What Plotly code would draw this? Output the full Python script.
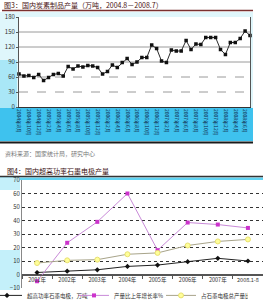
import plotly.graph_objects as go

W, H = 263, 300
FONT = "Noto Sans CJK SC"

# ---------------- data ----------------
months = [
    "2004年8月", "2004年9月", "2004年10月", "2004年11月", "2004年12月",
    "2005年1月", "2005年2月", "2005年3月", "2005年4月", "2005年5月", "2005年6月",
    "2005年7月", "2005年8月", "2005年9月", "2005年10月", "2005年11月", "2005年12月",
    "2006年1月", "2006年2月", "2006年3月", "2006年4月", "2006年5月", "2006年6月",
    "2006年7月", "2006年8月", "2006年9月", "2006年10月", "2006年11月", "2006年12月",
    "2007年1月", "2007年2月", "2007年3月", "2007年4月", "2007年5月", "2007年6月",
    "2007年7月", "2007年8月", "2007年9月", "2007年10月", "2007年11月", "2007年12月",
    "2008年1月", "2008年2月", "2008年3月", "2008年4月", "2008年5月", "2008年6月",
    "2008年7月",
]
production = [
    66, 62, 63, 59, 65, 53, 59, 65, 67, 62, 81, 76, 82, 80, 83, 82, 79, 66,
    71, 84, 79, 89, 97, 85, 90, 99, 99, 124, 117, 92, 89, 114, 112, 112, 133,
    115, 126, 125, 139, 139, 139, 115, 105, 129, 129, 137, 152, 143,
]
month_ticks = months[::2]
y1_ticks = [0, 30, 60, 90, 120, 150, 180]
grid_solid = [90, 120, 150]
grid_dash = [30, 60]

years = ["2001年", "2002年", "2003年", "2004年", "2005年", "2006年", "2007年", "2008.1-8"]
uhp_output = [1.5, 2.5, 3.5, 6, 7, 9.5, 12, 10]
growth_rate = [-5, 23.5, 39, 60, 18, 38.5, 37, 34.5]
share_pct = [8.5, 10.5, 11, 15, 16, 21.5, 24.5, 26]
y2_ticks = [-10, 0, 10, 20, 30, 40, 50, 60, 70]

title1 = "图3：国内炭素制品产量（万吨，2004.8－2008.7）"
source1 = "资料来源：国家统计局，研究中心"
title2 = "图4：国内超高功率石墨电极产量"
names = ["超高功率石墨电极，万吨", "产量比上年增长率%", "占石墨电极总产量比重%"]


def X(px):
    return px / W


def Y(py):
    return 1 - py / H


fig = go.Figure()

fig.add_trace(go.Scatter(
    x=months, y=production, xaxis="x", yaxis="y", mode="lines+markers",
    line=dict(color="#2a2a2a", width=1),
    marker=dict(symbol="square", size=3.5, color="#111"),
    showlegend=False, cliponaxis=False,
))

fig.add_trace(go.Scatter(
    x=years, y=uhp_output, xaxis="x2", yaxis="y2", mode="lines+markers", name=names[0],
    line=dict(color="#222", width=1),
    marker=dict(symbol="diamond", size=4, color="#111"), cliponaxis=False,
))
fig.add_trace(go.Scatter(
    x=years, y=growth_rate, xaxis="x2", yaxis="y2", mode="lines+markers", name=names[1],
    line=dict(color="#c98ad8", width=1),
    marker=dict(symbol="square", size=4, color="#cc33cc"), cliponaxis=False,
))
fig.add_trace(go.Scatter(
    x=years, y=share_pct, xaxis="x2", yaxis="y2", mode="lines+markers", name=names[2],
    line=dict(color="#a8a48a", width=1),
    marker=dict(symbol="circle", size=5, color="#ffff99", line=dict(color="#e8e070", width=1)),
    cliponaxis=False,
))

shapes = []
# top panel backgrounds
shapes.append(dict(type="rect", xref="paper", yref="paper", x0=X(0), x1=X(253), y0=Y(142), y1=Y(12),
                   fillcolor="#dff6fb", line=dict(width=0), layer="below"))
shapes.append(dict(type="rect", xref="paper", yref="paper", x0=X(0), x1=X(17), y0=Y(108), y1=Y(60),
                   fillcolor="#a9e7f7", line=dict(width=0), layer="below"))
shapes.append(dict(type="rect", xref="paper", yref="paper", x0=X(19), x1=X(250), y0=Y(107), y1=Y(17),
                   fillcolor="white", line=dict(width=0), layer="below"))
shapes.append(dict(type="rect", xref="paper", yref="paper", x0=X(0), x1=X(253), y0=Y(141), y1=Y(108),
                   fillcolor="#3ec2ee", line=dict(width=0), layer="below"))
shapes.append(dict(type="line", xref="paper", yref="paper", x0=X(0), x1=X(253), y0=Y(142.5), y1=Y(142.5),
                   line=dict(color="#1a1a1a", width=2)))
shapes.append(dict(type="line", xref="paper", yref="paper", x0=X(2), x1=X(253), y0=Y(10.5), y1=Y(10.5),
                   line=dict(color="#7a3030", width=1.5)))
# top gridlines
for g in grid_solid:
    shapes.append(dict(type="line", xref="x domain", yref="y", x0=0, x1=1, y0=g, y1=g,
                       line=dict(color="#9a9a9a", width=1), layer="below"))
for g in grid_dash:
    shapes.append(dict(type="line", xref="x domain", yref="y", x0=0, x1=1, y0=g, y1=g,
                       line=dict(color="#9a9a9a", width=1, dash="dash"), layer="below"))
# bottom panel backgrounds
shapes.append(dict(type="line", xref="paper", yref="paper", x0=X(0), x1=X(263), y0=Y(176.5), y1=Y(176.5),
                   line=dict(color="#333", width=1.5)))
shapes.append(dict(type="rect", xref="paper", yref="paper", x0=X(0), x1=X(263), y0=Y(180), y1=Y(177.5),
                   fillcolor="#5fd3f2", line=dict(width=0), layer="below"))
shapes.append(dict(type="rect", xref="paper", yref="paper", x0=X(0), x1=X(20), y0=Y(190), y1=Y(178),
                   fillcolor="#c4f0fa", line=dict(width=0), layer="below"))
shapes.append(dict(type="rect", xref="paper", yref="paper", x0=X(0), x1=X(20), y0=Y(290), y1=Y(250),
                   fillcolor="#c4f0fa", line=dict(width=0), layer="below"))

annotations = [
    dict(text=title1, xref="paper", yref="paper", x=X(2), y=Y(5), xanchor="left", yanchor="middle",
         showarrow=False, font=dict(family=FONT, size=7, color="#4a1212")),
    dict(text=source1, xref="paper", yref="paper", x=X(3), y=Y(153), xanchor="left", yanchor="middle",
         showarrow=False, font=dict(family=FONT, size=6, color="#777")),
    dict(text=title2, xref="paper", yref="paper", x=X(5), y=Y(171), xanchor="left", yanchor="middle",
         showarrow=False, font=dict(family=FONT, size=7, color="#3a1010")),
]

y2_dom = [Y(288), Y(180)]
zero_pos = y2_dom[0] + (0 - (-10)) / 80 * (y2_dom[1] - y2_dom[0])

fig.update_layout(
    width=W, height=H, margin=dict(l=0, r=0, t=0, b=0, autoexpand=False),
    paper_bgcolor="white", plot_bgcolor="white",
    font=dict(family=FONT, size=6, color="#333"),
    shapes=shapes, annotations=annotations,
    xaxis=dict(domain=[X(19), X(250)], anchor="y", type="category", range=[0, 47],
               tickmode="array", tickvals=month_ticks, ticktext=month_ticks, tickangle=90,
               tickfont=dict(size=5, color="#10284a"), showline=True, linecolor="#333",
               showgrid=False, ticks="", fixedrange=True),
    yaxis=dict(domain=[Y(107), Y(17)], anchor="x", range=[0, 180], tickmode="array", tickvals=y1_ticks,
               showgrid=False, zeroline=False, showline=True, linecolor="#555", mirror=True,
               ticks="outside", ticklen=2, tickcolor="#555", tickfont=dict(size=6, color="#333")),
    xaxis2=dict(domain=[X(22), 1], anchor="free", position=zero_pos, type="category", range=[-0.5, 7.5],
                tickson="boundaries", ticks="outside", ticklen=3, tickcolor="#555", tickangle=0,
                showline=True, linecolor="#555", showgrid=False,
                tickfont=dict(size=5.5, color="#333")),
    yaxis2=dict(domain=y2_dom, anchor="x2", range=[-10, 70], tickmode="array", tickvals=y2_ticks,
                showgrid=True, griddash="dot", gridcolor="#333", gridwidth=1,
                zeroline=True, zerolinecolor="#555", zerolinewidth=1,
                showline=True, linecolor="#888", tickfont=dict(size=6, color="#333")),
    legend=dict(orientation="h", x=X(-13), y=-0.033, xanchor="left", yanchor="bottom",
                font=dict(family=FONT, size=5.5, color="#333"), itemwidth=30,
                entrywidth=42, entrywidthmode="pixels",
                bgcolor="rgba(0,0,0,0)", tracegroupgap=0),
    showlegend=True,
)

fig.write_html("out.html")
